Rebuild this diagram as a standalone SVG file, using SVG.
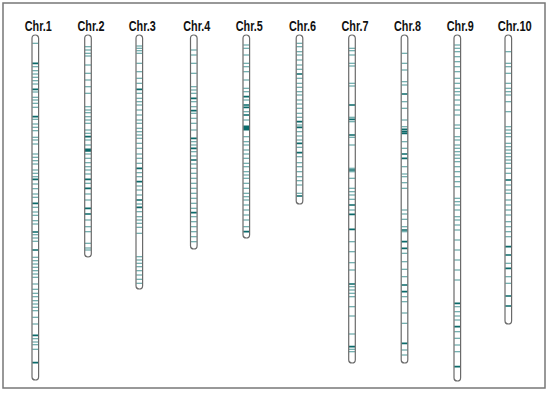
<svg xmlns="http://www.w3.org/2000/svg" width="550" height="396" viewBox="0 0 550 396">
<style>
.lab{font-family:"Liberation Sans",Arial,sans-serif;font-weight:bold;font-size:14px;fill:#111}
.body{fill:#fff;stroke:none}
.out{fill:none;stroke:#6a6a6a;stroke-width:1.2}
.l{fill:none;stroke:#4a9696;stroke-width:1.1}
.d{fill:none;stroke:#0b6a6a;stroke-width:1.7}
</style>
<rect x="3" y="3" width="542" height="385" fill="#fff" stroke="#777" stroke-width="1.5"/>
<g id="chr1" transform="translate(35.3,0)">
<text class="lab" x="-10.5" y="31" textLength="27" lengthAdjust="spacingAndGlyphs">Chr.1</text>
<rect class="body" x="-3.3" y="35" width="6.6" height="345" rx="3.3"/>
<path class="l" d="M-3 43.3h6M-3 66.7h6M-3 70.7h6M-3 74h6M-3 77.3h6M-3 80.7h6M-3 84h6M-3 92h6M-3 97.3h6M-3 100h6M-3 103.3h6M-3 107.3h6M-3 119.3h6M-3 124h6M-3 127.3h6M-3 130.7h6M-3 137.3h6M-3 140h6M-3 144h6M-3 154h6M-3 157.3h6M-3 160.7h6M-3 164h6M-3 170h6M-3 173.3h6M-3 176.7h6M-3 184h6M-3 188.7h6M-3 194h6M-3 197.3h6M-3 207.3h6M-3 212h6M-3 215.3h6M-3 220.7h6M-3 224h6M-3 234.7h6M-3 238h6M-3 241.3h6M-3 257.3h6M-3 260.7h6M-3 264h6M-3 267.3h6M-3 270.7h6M-3 274h6M-3 277.3h6M-3 284h6M-3 289.3h6M-3 293.3h6M-3 296.7h6M-3 300.7h6M-3 304h6M-3 307.3h6M-3 310.7h6M-3 317.3h6M-3 324h6M-3 338.7h6M-3 342h6M-3 344.7h6M-3 349.3h6"/>
<path class="d" d="M-3 63.3h6M-3 89.3h6M-3 116.7h6M-3 179.3h6M-3 203.3h6M-3 232h6M-3 250h6M-3 335.3h6M-3 362.7h6"/>
<rect class="out" x="-3.3" y="35" width="6.6" height="345" rx="3.3"/>
</g>
<g id="chr2" transform="translate(88,0)">
<text class="lab" x="-10.5" y="31" textLength="27" lengthAdjust="spacingAndGlyphs">Chr.2</text>
<rect class="body" x="-3.3" y="35" width="6.6" height="222" rx="3.3"/>
<path class="l" d="M-3 46.7h6M-3 50h6M-3 53.3h6M-3 56h6M-3 65h6M-3 73.3h6M-3 80h6M-3 86.7h6M-3 93.3h6M-3 106.7h6M-3 110h6M-3 112.7h6M-3 116.7h6M-3 120h6M-3 123.3h6M-3 130h6M-3 133.3h6M-3 140h6M-3 145h6M-3 154h6M-3 158.3h6M-3 162.7h6M-3 166.7h6M-3 170h6M-3 174h6M-3 183.3h6M-3 194h6M-3 200h6M-3 220h6M-3 226.7h6M-3 231.7h6M-3 243.3h6M-3 248h6M-3 250h6"/>
<path class="d" d="M-3 136.7h6M-3 149.3h6M-3 150.8h6M-3 179.3h6M-3 188.3h6M-3 208.3h6M-3 214h6"/>
<rect class="out" x="-3.3" y="35" width="6.6" height="222" rx="3.3"/>
</g>
<g id="chr3" transform="translate(139.3,0)">
<text class="lab" x="-10.5" y="31" textLength="27" lengthAdjust="spacingAndGlyphs">Chr.3</text>
<rect class="body" x="-3.3" y="35" width="6.6" height="254" rx="3.3"/>
<path class="l" d="M-3 46h6M-3 48.3h6M-3 50.7h6M-3 53.3h6M-3 63.3h6M-3 71.7h6M-3 78.3h6M-3 83.3h6M-3 93.3h6M-3 98.3h6M-3 101.7h6M-3 105h6M-3 110h6M-3 115h6M-3 120h6M-3 123.3h6M-3 128.3h6M-3 131.7h6M-3 135h6M-3 138.3h6M-3 143.3h6M-3 148.3h6M-3 154h6M-3 158.3h6M-3 163.3h6M-3 172.7h6M-3 176.7h6M-3 186h6M-3 190h6M-3 195h6M-3 204h6M-3 211.7h6M-3 216.7h6M-3 220h6M-3 223.3h6M-3 227.3h6M-3 233.3h6M-3 256.7h6M-3 260h6M-3 263.3h6M-3 266.7h6M-3 270.7h6M-3 275h6M-3 279.3h6M-3 283.3h6"/>
<path class="d" d="M-3 89.3h6M-3 168.3h6M-3 181.7h6M-3 200h6M-3 207.3h6"/>
<rect class="out" x="-3.3" y="35" width="6.6" height="254" rx="3.3"/>
</g>
<g id="chr4" transform="translate(193.8,0)">
<text class="lab" x="-10.5" y="31" textLength="27" lengthAdjust="spacingAndGlyphs">Chr.4</text>
<rect class="body" x="-3.3" y="35" width="6.6" height="214" rx="3.3"/>
<path class="l" d="M-3 50h6M-3 55h6M-3 63.3h6M-3 73.3h6M-3 86.7h6M-3 90h6M-3 93.3h6M-3 101.7h6M-3 106.7h6M-3 113.3h6M-3 118.3h6M-3 123.3h6M-3 130h6M-3 141.7h6M-3 145h6M-3 151.7h6M-3 156h6M-3 164h6M-3 168.3h6M-3 173.3h6M-3 178.3h6M-3 183.3h6M-3 188.3h6M-3 193.3h6M-3 198.3h6M-3 203.3h6M-3 208.3h6M-3 216.7h6M-3 221.7h6M-3 226.7h6M-3 231.7h6M-3 236.7h6M-3 241.7h6"/>
<path class="d" d="M-3 98.3h6M-3 110.7h6M-3 138.3h6M-3 148.3h6M-3 160h6M-3 212.7h6"/>
<rect class="out" x="-3.3" y="35" width="6.6" height="214" rx="3.3"/>
</g>
<g id="chr5" transform="translate(246.3,0)">
<text class="lab" x="-10.5" y="31" textLength="27" lengthAdjust="spacingAndGlyphs">Chr.5</text>
<rect class="body" x="-3.3" y="35" width="6.6" height="203" rx="3.3"/>
<path class="l" d="M-3 45h6M-3 48.3h6M-3 55h6M-3 63.3h6M-3 66.7h6M-3 71.7h6M-3 80h6M-3 88.3h6M-3 91.7h6M-3 100h6M-3 111.7h6M-3 120h6M-3 136.7h6M-3 141.7h6M-3 145h6M-3 150h6M-3 154h6M-3 158.3h6M-3 163.3h6M-3 166.7h6M-3 171.7h6M-3 175h6M-3 178.3h6M-3 183.3h6M-3 188.3h6M-3 193.3h6M-3 196.7h6M-3 200h6M-3 205h6M-3 210h6M-3 215h6M-3 220h6M-3 226.7h6"/>
<path class="d" d="M-3 96.7h6M-3 105h6M-3 107.3h6M-3 115h6M-3 231.7h6"/>
<rect x="-3" y="125.5" width="6" height="5" fill="#0b6a6a"/>
<rect class="out" x="-3.3" y="35" width="6.6" height="203" rx="3.3"/>
</g>
<g id="chr6" transform="translate(299.5,0)">
<text class="lab" x="-10.5" y="31" textLength="27" lengthAdjust="spacingAndGlyphs">Chr.6</text>
<rect class="body" x="-3.3" y="35" width="6.6" height="169" rx="3.3"/>
<path class="l" d="M-3 43.3h6M-3 46.7h6M-3 51.7h6M-3 55h6M-3 60h6M-3 65h6M-3 69.3h6M-3 78.3h6M-3 83.3h6M-3 87.3h6M-3 91.7h6M-3 95h6M-3 100h6M-3 104h6M-3 108.3h6M-3 113.3h6M-3 117.3h6M-3 125h6M-3 131.7h6M-3 136h6M-3 140h6M-3 147.3h6M-3 156.7h6M-3 162.7h6M-3 166.7h6M-3 171.7h6M-3 176.7h6M-3 180.7h6M-3 185h6M-3 193.3h6"/>
<path class="d" d="M-3 74h6M-3 121.7h6M-3 127.3h6M-3 143.3h6M-3 152.7h6M-3 196h6"/>
<rect class="out" x="-3.3" y="35" width="6.6" height="169" rx="3.3"/>
</g>
<g id="chr7" transform="translate(352,0)">
<text class="lab" x="-10.5" y="31" textLength="27" lengthAdjust="spacingAndGlyphs">Chr.7</text>
<rect class="body" x="-3.3" y="35" width="6.6" height="328" rx="3.3"/>
<path class="l" d="M-3 48.3h6M-3 50.7h6M-3 55h6M-3 63.3h6M-3 66h6M-3 83.3h6M-3 86h6M-3 117.3h6M-3 121.7h6M-3 137.3h6M-3 145h6M-3 168.3h6M-3 171.7h6M-3 178.3h6M-3 188.3h6M-3 191.7h6M-3 195h6M-3 199.3h6M-3 210h6M-3 241.7h6M-3 251.7h6M-3 262.7h6M-3 270h6M-3 286.7h6M-3 290h6M-3 293.3h6M-3 296.7h6M-3 306.7h6M-3 316h6M-3 334h6M-3 349.3h6M-3 351.7h6"/>
<path class="d" d="M-3 105h6M-3 119.3h6M-3 135h6M-3 170h6M-3 205h6M-3 214.3h6M-3 229.3h6M-3 284h6M-3 346.7h6"/>
<rect class="out" x="-3.3" y="35" width="6.6" height="328" rx="3.3"/>
</g>
<g id="chr8" transform="translate(404.5,0)">
<text class="lab" x="-10.5" y="31" textLength="27" lengthAdjust="spacingAndGlyphs">Chr.8</text>
<rect class="body" x="-3.3" y="35" width="6.6" height="328" rx="3.3"/>
<path class="l" d="M-3 53.3h6M-3 63.3h6M-3 70h6M-3 81.7h6M-3 85h6M-3 101.7h6M-3 108.3h6M-3 120h6M-3 126.7h6M-3 141.7h6M-3 148.3h6M-3 166.7h6M-3 174h6M-3 176.7h6M-3 182.7h6M-3 188.3h6M-3 210h6M-3 214h6M-3 219.3h6M-3 226.7h6M-3 231.7h6M-3 253.3h6M-3 261.7h6M-3 269.3h6M-3 276.7h6M-3 296.7h6M-3 301.7h6M-3 313h6M-3 323.3h6M-3 350h6M-3 355h6"/>
<path class="d" d="M-3 94h6M-3 129.3h6M-3 131.7h6M-3 133.5h6M-3 154h6M-3 158.3h6M-3 230h6M-3 241.7h6M-3 248.3h6M-3 285h6M-3 291.7h6M-3 343.3h6"/>
<rect class="out" x="-3.3" y="35" width="6.6" height="328" rx="3.3"/>
</g>
<g id="chr9" transform="translate(457.3,0)">
<text class="lab" x="-10.5" y="31" textLength="27" lengthAdjust="spacingAndGlyphs">Chr.9</text>
<rect class="body" x="-3.3" y="35" width="6.6" height="346" rx="3.3"/>
<path class="l" d="M-3 45h6M-3 48.3h6M-3 51.7h6M-3 56.7h6M-3 61.7h6M-3 66.7h6M-3 71.7h6M-3 78.3h6M-3 83.3h6M-3 88.3h6M-3 91.7h6M-3 95h6M-3 100h6M-3 105h6M-3 110h6M-3 115h6M-3 125h6M-3 128.3h6M-3 136.7h6M-3 140h6M-3 145h6M-3 148.3h6M-3 151.7h6M-3 155h6M-3 158.3h6M-3 161.7h6M-3 166.7h6M-3 171.7h6M-3 176.7h6M-3 181.7h6M-3 186.7h6M-3 198.3h6M-3 201.7h6M-3 205h6M-3 210h6M-3 216.7h6M-3 220h6M-3 225h6M-3 230h6M-3 240h6M-3 250h6M-3 260h6M-3 270h6M-3 280h6M-3 306.7h6M-3 311.7h6M-3 316h6M-3 320h6M-3 331.7h6M-3 338.3h6M-3 345h6M-3 351.7h6"/>
<path class="d" d="M-3 303.3h6M-3 326.7h6M-3 366.7h6"/>
<rect class="out" x="-3.3" y="35" width="6.6" height="346" rx="3.3"/>
</g>
<g id="chr10" transform="translate(508.3,0)">
<text class="lab" x="-10.5" y="31" textLength="34" lengthAdjust="spacingAndGlyphs">Chr.10</text>
<rect class="body" x="-3.3" y="35" width="6.6" height="289" rx="3.3"/>
<path class="l" d="M-3 51.7h6M-3 63.3h6M-3 66.7h6M-3 73.3h6M-3 83.3h6M-3 88.3h6M-3 91.7h6M-3 95h6M-3 101.7h6M-3 111.7h6M-3 126.7h6M-3 130h6M-3 133.3h6M-3 136.7h6M-3 143.3h6M-3 146.7h6M-3 150h6M-3 153.3h6M-3 156.7h6M-3 160h6M-3 163.3h6M-3 168.3h6M-3 173.3h6M-3 185h6M-3 190h6M-3 193.3h6M-3 200h6M-3 205h6M-3 210h6M-3 215h6M-3 221.7h6M-3 226.7h6M-3 231.7h6M-3 236.7h6M-3 263.3h6M-3 276.7h6M-3 283.3h6"/>
<path class="d" d="M-3 180h6M-3 246.7h6M-3 255h6M-3 268.3h6M-3 296h6M-3 306h6"/>
<rect class="out" x="-3.3" y="35" width="6.6" height="289" rx="3.3"/>
</g>
</svg>
